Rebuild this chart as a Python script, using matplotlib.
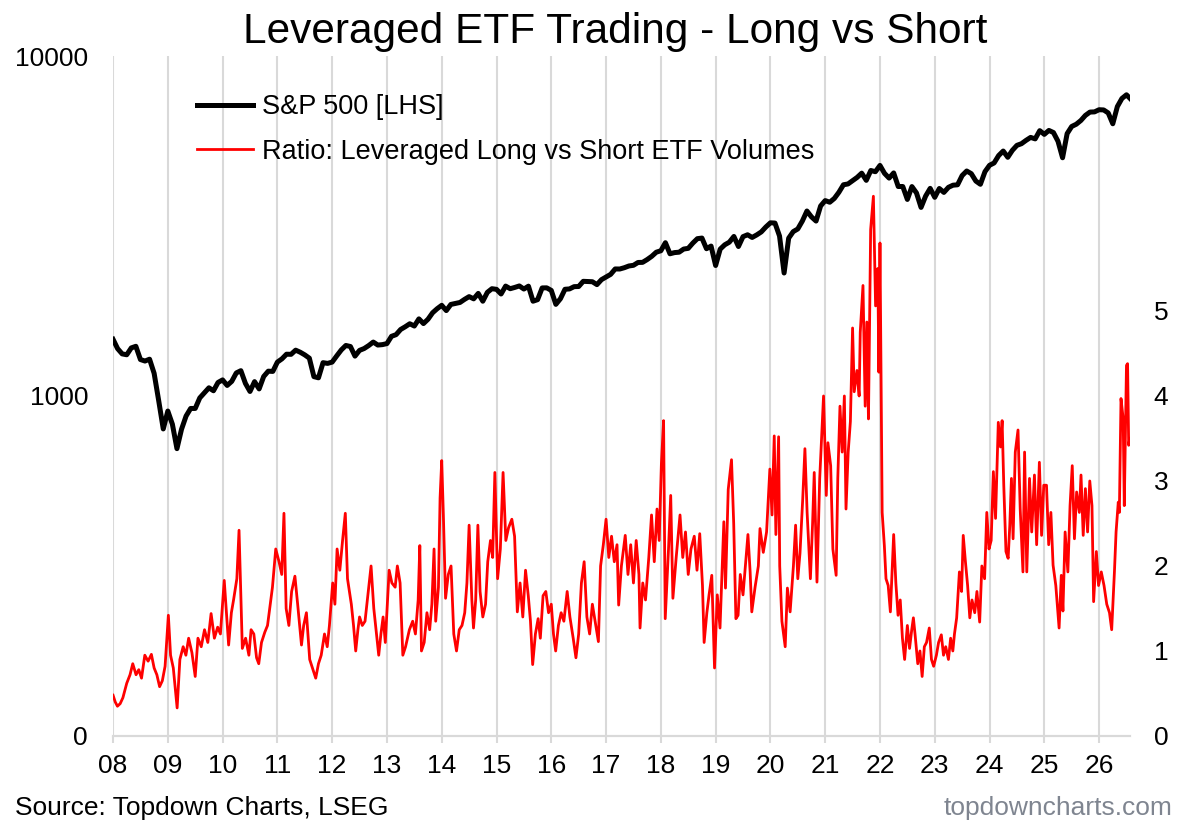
import numpy as np
import matplotlib

matplotlib.use("Agg")
import matplotlib.pyplot as plt
from matplotlib.ticker import FixedLocator, NullLocator

plt.rcParams["font.family"] = ["Liberation Sans", "DejaVu Sans"]

# S&P 500, value at the start of each month from Jan 2008
sp500 = [
    1468, 1378, 1330, 1322, 1385, 1400, 1280, 1267, 1283, 1166, 969, 800,
    903, 826, 700, 798, 873, 919, 919, 987, 1021, 1057, 1036, 1096,
    1115, 1074, 1104, 1169, 1187, 1089, 1031, 1102, 1049, 1141, 1183, 1181,
    1258, 1286, 1327, 1326, 1364, 1345, 1321, 1292, 1140, 1131, 1253, 1247,
    1258, 1312, 1366, 1408, 1398, 1310, 1362, 1379, 1407, 1441, 1412, 1416,
    1426, 1498, 1515, 1569, 1598, 1631, 1606, 1686, 1633, 1682, 1757, 1806,
    1848, 1783, 1859, 1872, 1884, 1924, 1960, 1931, 2003, 1900, 2018, 2068,
    2059, 1995, 2105, 2068, 2086, 2107, 2063, 2104, 1900, 1920, 2079, 2080,
    2044, 1860, 1932, 2060, 2065, 2097, 2099, 2174, 2171, 2168, 2126, 2199,
    2239, 2279, 2364, 2363, 2384, 2412, 2423, 2470, 2472, 2519, 2575, 2648,
    2674, 2824, 2620, 2641, 2648, 2705, 2718, 2816, 2902, 2914, 2711, 2760,
    2420, 2704, 2784, 2834, 2946, 2752, 2942, 2980, 2926, 2977, 3038, 3141,
    3231, 3226, 2954, 2300, 2912, 3044, 3100, 3271, 3500, 3363, 3270, 3622,
    3756, 3714, 3811, 3973, 4181, 4204, 4298, 4395, 4523, 4308, 4605, 4567,
    4766, 4516, 4374, 4530, 4132, 4132, 3785, 4130, 3955, 3586, 3872, 4080,
    3840, 4077, 3970, 4109, 4169, 4180, 4450, 4589, 4508, 4288, 4194, 4568,
    4770, 4846, 5096, 5254, 5036, 5278, 5460, 5522, 5648, 5762, 5705, 6032,
    5882, 6041, 5955, 5612, 5020, 5912, 6205, 6300, 6460, 6688, 6840, 6849,
    6950, 6940, 6800, 6320, 7100, 7500, 7690, 7450,
]
sp500_dates = 2008 + np.arange(len(sp500)) / 12.0

# Ratio: leveraged long vs short ETF volumes (dates in decimal years)
ratio_dates = [
    2008.00, 2008.04, 2008.08, 2008.13, 2008.18, 2008.25, 2008.31, 2008.36, 2008.42, 2008.47,
    2008.52, 2008.58, 2008.64, 2008.70, 2008.75, 2008.80, 2008.85, 2008.90, 2008.95,
    2009.01, 2009.05, 2009.10, 2009.17, 2009.22, 2009.28, 2009.33, 2009.38, 2009.44, 2009.50,
    2009.55, 2009.61, 2009.67, 2009.73, 2009.79, 2009.85, 2009.91, 2009.96,
    2010.03, 2010.08, 2010.11, 2010.16, 2010.20, 2010.26, 2010.30, 2010.36, 2010.42, 2010.48,
    2010.52, 2010.57, 2010.62, 2010.66, 2010.71, 2010.77, 2010.82, 2010.87, 2010.91, 2010.97,
    2011.03, 2011.08, 2011.12, 2011.16, 2011.21, 2011.26, 2011.32, 2011.37, 2011.44, 2011.48,
    2011.53, 2011.59, 2011.65, 2011.70, 2011.75, 2011.80, 2011.86, 2011.91, 2011.95,
    2012.01, 2012.05, 2012.09, 2012.14, 2012.19, 2012.24, 2012.28, 2012.35, 2012.39, 2012.43,
    2012.47, 2012.50, 2012.55, 2012.60, 2012.66, 2012.71, 2012.76, 2012.80, 2012.85, 2012.89,
    2012.93, 2012.97,
    2013.04, 2013.09, 2013.15, 2013.19, 2013.24, 2013.29, 2013.34, 2013.41, 2013.47, 2013.52,
    2013.57, 2013.60, 2013.63, 2013.68, 2013.73, 2013.78, 2013.82, 2013.86, 2013.89, 2013.94,
    2013.97,
    2014.00, 2014.03, 2014.07, 2014.12, 2014.17, 2014.22, 2014.27, 2014.32, 2014.37, 2014.42,
    2014.46, 2014.50, 2014.55, 2014.58, 2014.62, 2014.66, 2014.70, 2014.75, 2014.80, 2014.84,
    2014.89, 2014.93, 2014.97,
    2015.02, 2015.07, 2015.12, 2015.17, 2015.22, 2015.28, 2015.33, 2015.38, 2015.43, 2015.48,
    2015.53, 2015.58, 2015.62, 2015.66, 2015.71, 2015.76, 2015.80, 2015.85, 2015.90, 2015.95,
    2016.00, 2016.04, 2016.08, 2016.13, 2016.18, 2016.23, 2016.29, 2016.34, 2016.40, 2016.45,
    2016.50, 2016.55, 2016.60, 2016.65, 2016.70, 2016.75, 2016.80, 2016.86, 2016.90, 2016.95,
    2017.00, 2017.05, 2017.10, 2017.15, 2017.20, 2017.23, 2017.28, 2017.35, 2017.40, 2017.45,
    2017.50, 2017.55, 2017.60, 2017.62, 2017.67, 2017.72, 2017.78, 2017.83, 2017.88, 2017.93,
    2017.97,
    2018.01, 2018.05, 2018.08, 2018.14, 2018.18, 2018.22, 2018.28, 2018.35, 2018.40, 2018.45,
    2018.50, 2018.55, 2018.61, 2018.66, 2018.71, 2018.76, 2018.79, 2018.84, 2018.88, 2018.93,
    2018.98,
    2019.03, 2019.08, 2019.12, 2019.15, 2019.18, 2019.23, 2019.29, 2019.33, 2019.37, 2019.41,
    2019.45, 2019.50, 2019.55, 2019.59, 2019.63, 2019.66, 2019.72, 2019.78, 2019.81, 2019.87,
    2019.93, 2019.99,
    2020.03, 2020.07, 2020.10, 2020.15, 2020.17, 2020.21, 2020.27, 2020.31, 2020.36, 2020.42,
    2020.46, 2020.50, 2020.54, 2020.59, 2020.63, 2020.67, 2020.73, 2020.77, 2020.80, 2020.85,
    2020.90, 2020.97,
    2021.02, 2021.05, 2021.10, 2021.14, 2021.20, 2021.23, 2021.27, 2021.31, 2021.35, 2021.38,
    2021.42, 2021.46, 2021.50, 2021.53, 2021.58, 2021.62, 2021.64, 2021.69, 2021.73, 2021.76,
    2021.79, 2021.83, 2021.88, 2021.92, 2021.96, 2021.98,
    2022.00, 2022.02, 2022.04, 2022.08, 2022.11, 2022.15, 2022.19, 2022.25, 2022.29, 2022.33,
    2022.37, 2022.41, 2022.45, 2022.50, 2022.54, 2022.58, 2022.61, 2022.64, 2022.69, 2022.73,
    2022.77, 2022.81, 2022.85, 2022.90, 2022.94, 2022.98,
    2023.03, 2023.07, 2023.12, 2023.16, 2023.20, 2023.25, 2023.29, 2023.33, 2023.36, 2023.40,
    2023.45, 2023.49, 2023.52, 2023.56, 2023.60, 2023.64, 2023.68, 2023.73, 2023.77, 2023.82,
    2023.86, 2023.91, 2023.95, 2023.99,
    2024.03, 2024.07, 2024.11, 2024.16, 2024.20, 2024.23, 2024.26, 2024.30, 2024.34, 2024.37,
    2024.40, 2024.43, 2024.47, 2024.52, 2024.56, 2024.61, 2024.64, 2024.68, 2024.73, 2024.77,
    2024.82, 2024.86, 2024.91, 2024.95, 2024.99,
    2025.04, 2025.08, 2025.12, 2025.16, 2025.21, 2025.27, 2025.31, 2025.34, 2025.38, 2025.43,
    2025.47, 2025.51, 2025.55, 2025.59, 2025.64, 2025.67, 2025.71, 2025.75, 2025.79, 2025.83,
    2025.87, 2025.90, 2025.95, 2025.99,
    2026.04, 2026.09, 2026.14, 2026.19, 2026.23, 2026.28, 2026.31, 2026.35, 2026.37, 2026.40,
    2026.44, 2026.46, 2026.50, 2026.52, 2026.54, 2026.56,
]
ratio_values = [
    0.48, 0.40, 0.35, 0.38, 0.45, 0.62, 0.72, 0.85, 0.72, 0.78,
    0.68, 0.95, 0.88, 0.96, 0.80, 0.72, 0.58, 0.65, 0.82,
    1.42, 0.95, 0.80, 0.33, 0.90, 1.05, 0.95, 1.15, 0.98, 0.70,
    1.15, 1.05, 1.25, 1.10, 1.44, 1.15, 1.28, 1.20,
    1.83, 1.35, 1.07, 1.45, 1.60, 1.85, 2.42, 1.03, 1.15, 0.95,
    1.25, 1.20, 0.92, 0.85, 1.10, 1.22, 1.30, 1.55, 1.75, 2.20,
    2.05, 1.90, 2.62, 1.50, 1.30, 1.70, 1.88, 1.55, 1.07, 1.30,
    1.45, 0.90, 0.78, 0.68, 0.85, 0.95, 1.20, 1.05, 1.30,
    1.80, 1.55, 2.20, 1.95, 2.30, 2.62, 1.85, 1.55, 1.30, 1.00,
    1.25, 1.40, 1.30, 1.35, 1.70, 2.00, 1.50, 1.25, 0.95, 1.20,
    1.40, 1.10,
    1.95, 1.80, 1.75, 2.00, 1.80, 0.95, 1.05, 1.25, 1.35, 1.20,
    1.60, 2.24, 1.00, 1.10, 1.45, 1.25, 1.55, 2.20, 1.35, 1.75,
    2.80,
    3.24, 2.60, 1.62, 1.90, 2.00, 1.20, 1.00, 1.25, 1.30, 1.45,
    1.80, 2.48, 1.60, 1.27, 1.60, 2.48, 1.70, 1.40, 1.55, 2.05,
    2.30, 2.10, 3.10,
    1.85, 2.20, 3.10, 2.30, 2.45, 2.55, 2.35, 1.46, 1.80, 1.40,
    1.95, 1.65, 1.35, 0.84, 1.20, 1.38, 1.15, 1.65, 1.70, 1.45,
    1.55, 1.20, 1.00, 1.30, 1.45, 1.35, 1.70, 1.40, 1.15, 0.92,
    1.20, 1.80, 2.05, 1.40, 1.20, 1.55, 1.35, 1.11, 2.00, 2.25,
    2.55, 2.10, 2.35, 2.05, 2.25, 1.54, 2.00, 2.36, 1.90, 2.25,
    1.80, 2.30, 1.90, 1.27, 1.80, 1.60, 2.10, 2.60, 2.05, 2.67,
    2.30,
    3.20, 3.71, 1.38, 2.20, 2.83, 1.62, 2.10, 2.60, 2.10, 2.40,
    1.90, 2.20, 2.35, 1.95, 2.38, 1.77, 1.10, 1.45, 1.66, 1.89,
    0.80,
    1.66, 1.27, 1.97, 2.52, 1.74, 2.90, 3.25, 2.50, 1.38, 1.42,
    1.90, 1.66, 2.05, 2.37, 1.93, 1.46, 1.75, 2.00, 2.44, 2.16,
    2.40, 3.14,
    2.60, 3.53, 2.37, 3.52, 2.00, 1.35, 1.05, 1.74, 1.46, 2.00,
    2.48, 1.85, 2.15, 2.79, 3.38, 2.63, 1.85, 2.50, 3.10, 1.81,
    3.03, 4.00,
    2.83, 3.45, 3.18, 2.20, 1.89, 3.03, 3.88, 3.34, 4.00, 2.67,
    3.34, 3.70, 4.80, 4.05, 4.30, 4.00, 4.75, 5.30, 3.88, 4.87,
    3.73, 5.96, 6.35, 5.06, 5.50, 4.28,
    5.80, 4.20, 2.63, 2.24, 1.85, 1.77, 1.46, 2.37, 1.80, 1.42,
    1.60, 1.15, 0.90, 1.30, 1.03, 1.25, 1.39, 1.20, 0.85, 1.00,
    0.70, 1.05, 1.10, 1.27, 0.90, 0.82,
    0.95, 1.10, 1.19, 0.95, 1.05, 0.90, 1.15, 1.00, 1.20, 1.39,
    1.93, 1.70, 2.36, 2.05, 1.77, 1.39, 1.60, 1.45, 1.70, 1.34,
    2.00, 1.85, 2.63, 2.20,
    2.30, 3.11, 2.56, 3.69, 3.40, 3.71, 2.95, 2.17, 2.09, 2.48,
    3.03, 2.32, 3.34, 3.60, 2.67, 1.93, 3.34, 1.93, 3.03, 2.40,
    3.07, 2.25, 3.22, 2.36, 2.95,
    2.95, 2.25, 2.63, 2.01, 1.77, 1.27, 1.89, 1.47, 2.40, 1.93,
    2.71, 3.18, 2.32, 2.87, 2.63, 3.07, 2.36, 2.91, 2.40, 3.00,
    2.71, 1.58, 2.17, 1.77,
    1.93, 1.77, 1.55, 1.45, 1.25, 1.93, 2.40, 2.75, 2.63, 3.97,
    3.73, 2.71, 4.36, 4.38, 3.42, 3.50,
]

years = list(range(2008, 2027))
year_labels = ["%02d" % (y % 100) for y in years]

left_ticks = [100, 1000, 10000]
left_labels = ["0", "1000", "10000"]
right_ticks = [0, 1, 2, 3, 4, 5]

grey = "#d9d9d9"

fig = plt.figure(figsize=(12, 8.26), dpi=100)
ax = fig.add_axes([0.0942, 0.109, 0.8475, 0.8232])
ax2 = ax.twinx()

(sp_line,) = ax.plot(sp500_dates, sp500, color="black", lw=3.6, solid_joinstyle="round",
                     label="S&P 500 [LHS]")
(ratio_line,) = ax2.plot(ratio_dates, ratio_values, color="#ff0000", lw=2.0,
                         label="Ratio: Leveraged Long vs Short ETF Volumes")

# left axis, log scale
ax.set_yscale("log")
ax.set_ylim(100, 10000)
ax.yaxis.set_major_locator(FixedLocator(left_ticks))
ax.yaxis.set_minor_locator(NullLocator())
ax.set_yticklabels(left_labels)

# right axis
ax2.set_ylim(0, 8)
ax2.set_yticks(right_ticks)

ax.set_xlim(2008, 2026.565)
ax.set_xticks(years)
ax.set_xticklabels(year_labels)
ax.grid(axis="x", color=grey, lw=1.5)

for a in (ax, ax2):
    for side in ("top", "left", "right"):
        a.spines[side].set_visible(False)
    a.spines["bottom"].set_color(grey)
    a.spines["bottom"].set_linewidth(1.5)

ax.tick_params(axis="x", length=5, width=1.5, color=grey, pad=8, labelsize=19)
ax.tick_params(axis="y", length=0, pad=18, labelsize=19)
ax2.tick_params(axis="y", length=0, pad=17, labelsize=19)

ax2.legend(handles=[sp_line, ratio_line], loc="upper left",
           bbox_to_anchor=(0.1525, 0.902), bbox_transform=fig.transFigure,
           frameon=False, fontsize=19.5, borderpad=0, handlelength=2.1,
           handletextpad=0.3, labelspacing=0.68)

fig.text(0.513, 0.961, "Leveraged ETF Trading - Long vs Short", ha="center", va="center",
         fontsize=30.5)
fig.text(0.0125, 0.022, "Source: Topdown Charts, LSEG", ha="left", va="center", fontsize=19)
fig.text(0.977, 0.022, "topdowncharts.com", ha="right", va="center", fontsize=19,
         color="#7f8590")

fig.savefig("out.png", dpi=100)
